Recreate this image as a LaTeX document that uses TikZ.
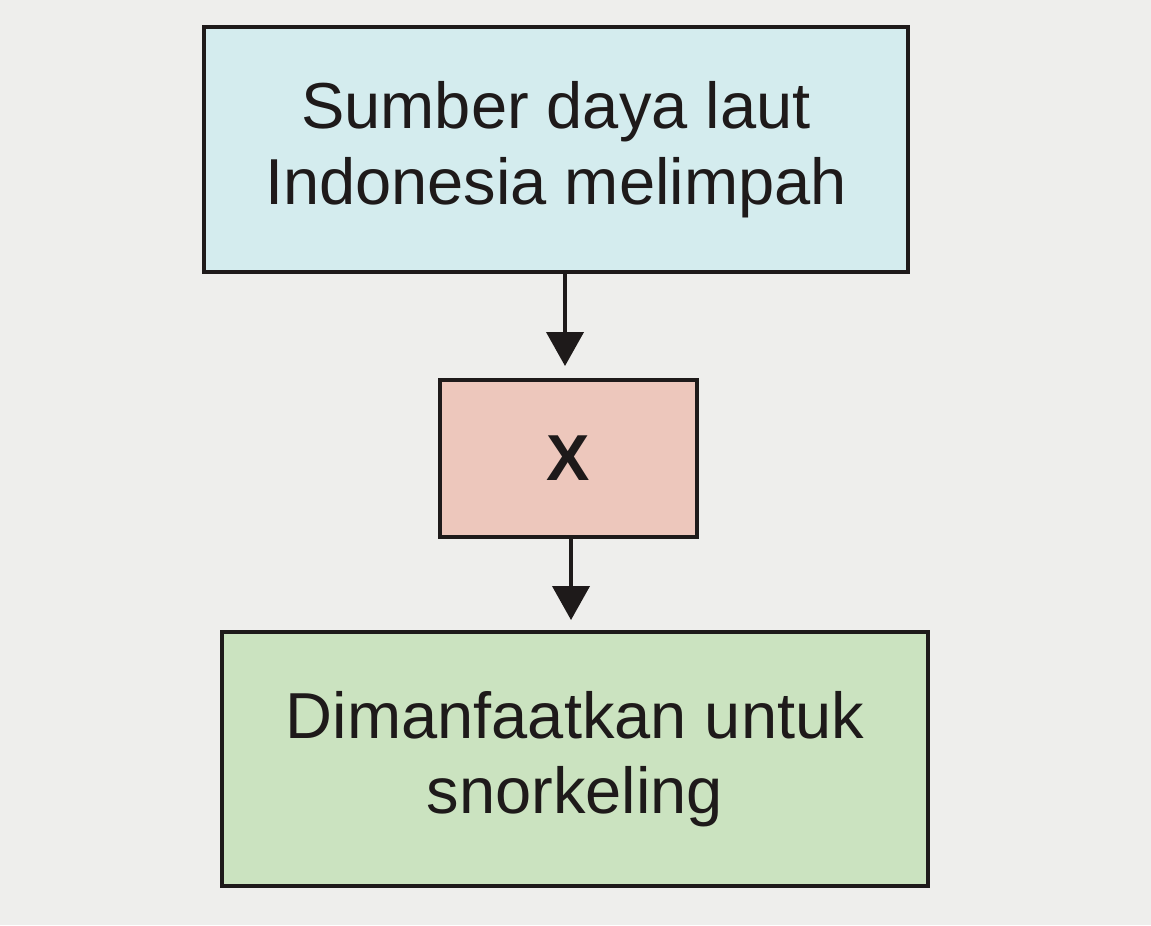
\documentclass[tikz,border=0pt]{standalone}
\usepackage{fontspec}
\setmainfont{Liberation Sans}
\usetikzlibrary{arrows.meta}
\definecolor{bgc}{HTML}{EEEEEC}
\definecolor{boxa}{HTML}{D4ECEE}
\definecolor{boxb}{HTML}{EDC7BC}
\definecolor{boxc}{HTML}{CBE3C0}
\definecolor{ink}{HTML}{1E1A1A}
\tikzset{
  flowbox/.style={draw=ink, line width=0.08cm, inner sep=0pt, align=center,
    text=ink, font=\fontsize{37}{43}\selectfont},
  flowarrow/.style={draw=ink, line width=0.08cm,
    -{Triangle[width=0.74cm,length=0.68cm]}}
}
\begin{document}
\begin{tikzpicture}[x=0.02cm,y=-0.02cm]
\fill[bgc] (0,0) rectangle (1151,925);
\useasboundingbox (0,0) rectangle (1151,925);
\node[flowbox, fill=boxa, minimum width=14.08cm, minimum height=4.9cm] (b1) at (556,149.5)
  {Sumber daya laut\\Indonesia melimpah};
\node[flowbox, fill=boxb, minimum width=5.14cm, minimum height=3.14cm] (b2) at (568.5,458.5)
  {\textbf{X}};
\node[flowbox, fill=boxc, minimum width=14.12cm, minimum height=5.08cm] (b3) at (575,759)
  {Dimanfaatkan untuk\\snorkeling};
\draw[flowarrow, shorten >=0.24cm] (b1.south -| 565,0) -- (b2.north -| 565,0);
\draw[flowarrow, shorten >=0.2cm] (b2.south -| 571,0) -- (b3.north -| 571,0);
\end{tikzpicture}
\end{document}
